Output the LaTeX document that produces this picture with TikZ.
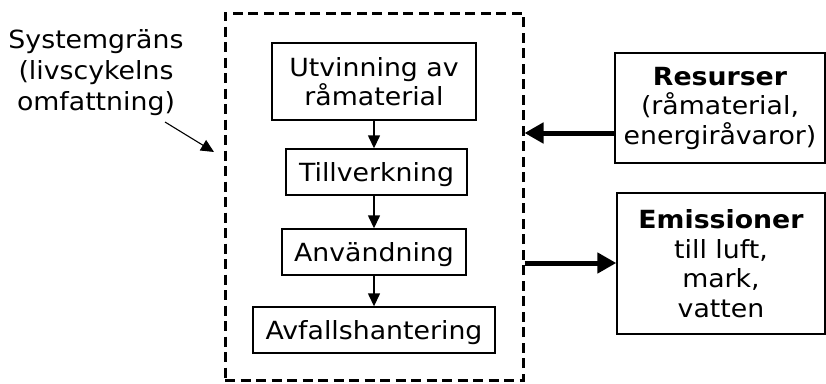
\documentclass[tikz,border=0pt]{standalone}
\usepackage{fontspec}
\setmainfont{DejaVu Sans}[FakeStretch=1.07]
\usetikzlibrary{arrows.meta}
\begin{document}
\begin{tikzpicture}[x=1pt,y=-1pt,
  txt/.style={font=\fontsize{25}{29.5}\selectfont, align=center, inner sep=0pt},
  stepbox/.style={txt, draw, line width=1.4pt, minimum height=46pt},
  onebox/.style={stepbox, text depth=1pt},
  thin arrow/.style={line width=1.4pt, -{Triangle[length=13pt,width=12pt]}},
  thick arrow/.style={line width=5pt, -{Triangle[length=19pt,width=20pt]}},
  sysbox/.style={draw, line width=3pt, dash pattern=on 10pt off 5.5pt}]
\useasboundingbox (0,0) rectangle (826,383);
\node[sysbox, minimum width=298pt, minimum height=367pt, inner sep=0pt] (sys) at (374,196.5) {};
\node[stepbox, minimum width=204pt, minimum height=77pt] (b1) at (374,81.5) {Utvinning av\\råmaterial};
\node[onebox, minimum width=181pt] (b2) at (376.5,172) {Tillverkning};
\node[onebox, minimum width=184pt] (b3) at (374,252) {Användning};
\node[onebox, minimum width=242pt] (b4) at (374,330) {Avfallshantering};
\draw[thin arrow] (b1) -- (b1.south |- b2.north);
\draw[thin arrow] (b2.south -| b1.south) -- (b1.south |- b3.north);
\draw[thin arrow] (b3) -- (b4);
\node[stepbox, minimum width=210pt, minimum height=110pt] (res) at (720,108) {\textbf{Resurser}\\(råmaterial,\\energiråvaror)};
\node[stepbox, minimum width=208pt, minimum height=141pt] (emi) at (721,263.5) {\textbf{Emissioner}\\till luft,\\mark,\\vatten};
\coordinate (ra) at (0,133);
\coordinate (ea) at (0,263);
\draw[thick arrow] (res.west |- ra) -- (sys.east |- ra);
\draw[thick arrow] (sys.east |- ea) -- (emi.west |- ea);
\node[txt, font=\fontsize{25}{31}\selectfont] (lab) at (96,73) {Systemgräns\\(livscykelns\\omfattning)};
\coordinate (la) at (165,122);
\coordinate (lb) at (214,152);
\draw[thin arrow, line width=1.1pt] (la) -- (lb);
\end{tikzpicture}
\end{document}
